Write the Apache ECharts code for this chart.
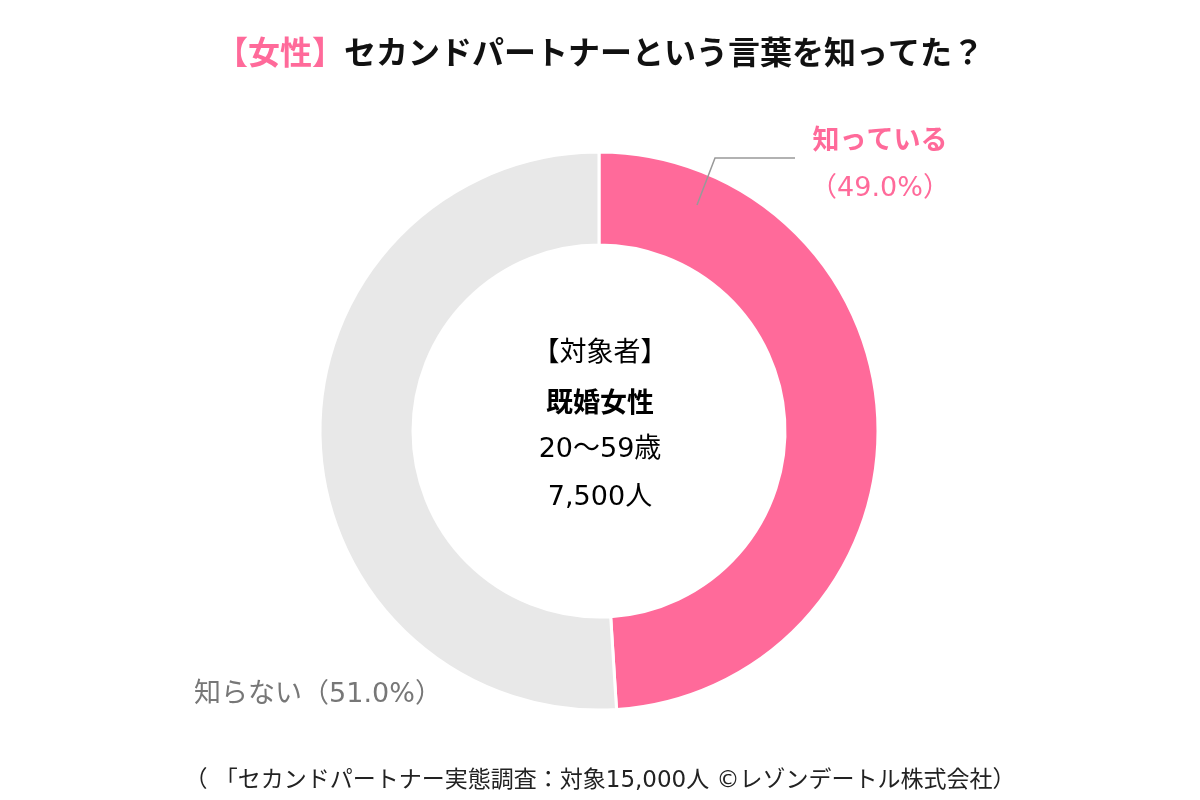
<!DOCTYPE html>
<html><head><meta charset="utf-8">
<script src="https://cdn.jsdelivr.net/npm/echarts@6/dist/echarts.min.js"></script>
<style>html,body{margin:0;padding:0;background:#fff}#c{width:1200px;height:800px}</style>
</head><body><div id="c"></div>
<script>
const categories = ['知っている', '知らない'];
const values = [49.0, 51.0];
const colors = ['#FF6A9A', '#E8E8E8'];
const centerLines = ['【対象者】', '既婚女性', '20～59歳', '7,500人'];
const titleTag = '【女性】';
const titleText = 'セカンドパートナーという言葉を知ってた？';
const footer = '（ 「セカンドパートナー実態調査：対象15,000人 ©レゾンデートル株式会社）';

const FONT = '"Noto Sans CJK JP", "Noto Sans", sans-serif';
const FONTN = '"DejaVu Sans", "Noto Sans CJK JP", sans-serif';
const chart = echarts.init(document.getElementById('c'));
chart.setOption({
  backgroundColor: '#fff',
  animation: false,
  title: {
    text: '{p|' + titleTag + '}{b|' + titleText + '}',
    left: 'center', top: 31,
    textStyle: {
      rich: {
        p: { color: '#FF6A9A', fontSize: 32, fontWeight: 'bold', fontFamily: FONT },
        b: { color: '#111', fontSize: 32, fontWeight: 'bold', fontFamily: FONT }
      }
    }
  },
  graphic: [
    {
      type: 'text', left: 'center', top: 340,
      style: {
        text: '{a|' + centerLines[0] + '}\n{b|' + centerLines[1] + '}\n{a|' + centerLines[2] + '}\n{a|' + centerLines[3] + '}',
        align: 'center',
        rich: {
          a: { fontSize: 27, lineHeight: 48, color: '#111', fontFamily: FONTN, align: 'center' },
          b: { fontSize: 27, lineHeight: 48, color: '#111', fontWeight: 'bold', fontFamily: FONT, align: 'center' }
        }
      }
    },
    {
      type: 'polyline', z: 100,
      shape: { points: [[697, 205], [715, 158], [795, 158]] },
      style: { stroke: '#999', lineWidth: 1.5, fill: null }
    },
    {
      type: 'text', left: 'center', top: 770,
      style: { text: footer, fontSize: 23, fill: '#222', fontFamily: FONTN }
    }
  ],
  series: [{
    type: 'pie',
    center: [599, 431],
    radius: [186, 279],
    startAngle: 90,
    clockwise: true,
    itemStyle: { borderColor: '#fff', borderWidth: 3 },
    data: categories.map((n, i) => ({
      name: n, value: values[i],
      itemStyle: { color: colors[i] },
      label: i === 0 ? {
        formatter: '{t|{b}}\n{v|（' + values[i].toFixed(1) + '%）}',
        rich: {
          t: { color: '#FF6A9A', fontSize: 27, fontWeight: 'bold', fontFamily: FONT, lineHeight: 50, align: 'center' },
          v: { color: '#FF6A9A', fontSize: 27, fontFamily: FONTN, lineHeight: 50, align: 'center' }
        }
      } : {
        formatter: '{b}（' + values[i].toFixed(1) + '%）',
        color: '#777', fontSize: 27, fontFamily: FONTN
      },
      labelLine: { show: false }
    })),
    label: { show: true, position: 'outside' },
    labelLayout: function (p) {
      if (p.dataIndex === 0) {
        return { x: 880, y: 164, align: 'center', verticalAlign: 'middle' };
      }
      return { x: 318, y: 695, align: 'center', verticalAlign: 'middle' };
    }
  }]
});
</script></body></html>
